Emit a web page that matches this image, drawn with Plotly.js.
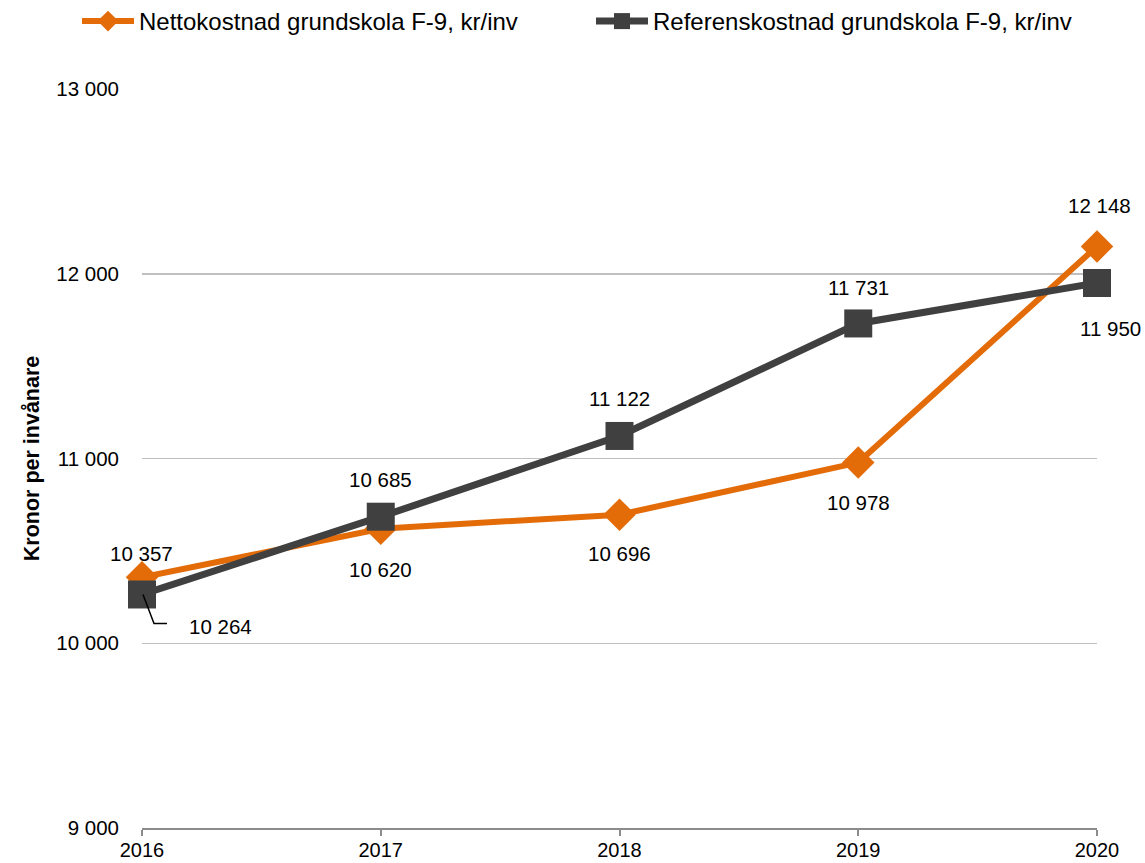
<!DOCTYPE html>
<html>
<head>
<meta charset="utf-8">
<script src="https://cdn.plot.ly/plotly-3.0.1.min.js"></script>
<style>html,body{margin:0;padding:0;background:#fff;}#chart{width:1145px;height:863px;}</style>
</head>
<body>
<div id="chart"></div>
<script>
// ---- data ----
const years = [2016, 2017, 2018, 2019, 2020];
const nettoName = 'Nettokostnad grundskola F-9, kr/inv';
const nettoValues = [10357, 10620, 10696, 10978, 12148];
const refName = 'Referenskostnad grundskola F-9, kr/inv';
const refValues = [10264, 10685, 11122, 11731, 11950];
const yTicks = [9000, 10000, 11000, 12000, 13000];
const yTitle = 'Kronor per invånare';

// ---- styles ----
const ORANGE = '#E36C09';
const GREY = '#404040';
const FONT = 'Liberation Sans, Arial, sans-serif';

function fmt(v) { return String(v).replace(/\B(?=(\d{3})+(?!\d))/g, ' '); }

// label offsets (pixels) per point
const nettoShift = [[-1, 24], [0, -41], [0, -39], [0, -40], [2, 41]];
const refShift = [[78, -32], [0, 37], [0, 37], [0, 36], [13, -46]];

const annotations = [];
years.forEach((yr, i) => {
  annotations.push({x: yr, y: nettoValues[i], xref: 'x', yref: 'y', text: fmt(nettoValues[i]),
    showarrow: false, xshift: nettoShift[i][0], yshift: nettoShift[i][1],
    font: {family: FONT, size: 20.5, color: '#000'}});
  annotations.push({x: yr, y: refValues[i], xref: 'x', yref: 'y', text: fmt(refValues[i]),
    showarrow: false, xshift: refShift[i][0], yshift: refShift[i][1],
    font: {family: FONT, size: 20.5, color: '#000'}});
});

// leader lines (pixel paths anchored on data points)
const leader = (xa, ya, path) => ({type: 'path', xref: 'x', yref: 'y', xsizemode: 'pixel', ysizemode: 'pixel',
  xanchor: xa, yanchor: ya, path: path, line: {color: '#000', width: 1.5}, layer: 'above'});
const shapes = [
  leader(years[0], refValues[0], 'M1,0 L12,-29 L25,-29'),
  leader(years[4], nettoValues[4], 'M2,0 L2,15'),
  leader(years[4], refValues[4], 'M2,-1 L14,-32')
];

const traces = [
  {x: years, y: nettoValues, name: nettoName, type: 'scatter', mode: 'lines+markers',
   line: {color: ORANGE, width: 6}, marker: {symbol: 'diamond', size: 25, color: ORANGE},
   cliponaxis: false},
  {x: years, y: refValues, name: refName, type: 'scatter', mode: 'lines+markers',
   line: {color: GREY, width: 7}, marker: {symbol: 'square', size: 28, color: GREY},
   cliponaxis: false}
];

const layout = {
  width: 1145, height: 863,
  margin: {l: 142, r: 48, t: 89, b: 35, autoexpand: false},
  paper_bgcolor: '#fff', plot_bgcolor: '#fff',
  font: {family: FONT, size: 20, color: '#000'},
  separators: ', ',
  showlegend: true,
  legend: {orientation: 'h', x: (77 - 142) / 955, xanchor: 'left', xref: 'paper',
    y: 1 + (89 - 44) / 739, yanchor: 'bottom', yref: 'paper',
    font: {family: FONT, size: 24, color: '#000'}, itemwidth: 52, entrywidth: 447, tracegroupgap: 0,
    bgcolor: 'rgba(0,0,0,0)'},
  xaxis: {type: 'linear', range: [2016, 2020], tickvals: years, ticktext: years.map(String),
    showgrid: false, zeroline: false, showline: true, linecolor: '#8c8c8c', linewidth: 2,
    ticks: 'outside', ticklen: 6, tickwidth: 2, tickcolor: '#8c8c8c', ticklabelstandoff: -3,
    tickfont: {family: FONT, size: 20, color: '#000'}, fixedrange: true},
  yaxis: {range: [9000, 13000], tickvals: yTicks, tickformat: ',d',
    showgrid: true, gridcolor: '#bfbfbf', gridwidth: 1.5, zeroline: false, showline: false,
    ticks: '', ticklabelstandoff: 22,
    tickfont: {family: FONT, size: 20.5, color: '#000'},
    title: {text: '<b>' + yTitle + '</b>', font: {family: FONT, size: 21.5, color: '#000'}, standoff: 10},
    fixedrange: true},
  annotations: annotations,
  shapes: shapes
};

Plotly.newPlot('chart', traces, layout, {displayModeBar: false, staticPlot: true});
</script>
</body>
</html>
